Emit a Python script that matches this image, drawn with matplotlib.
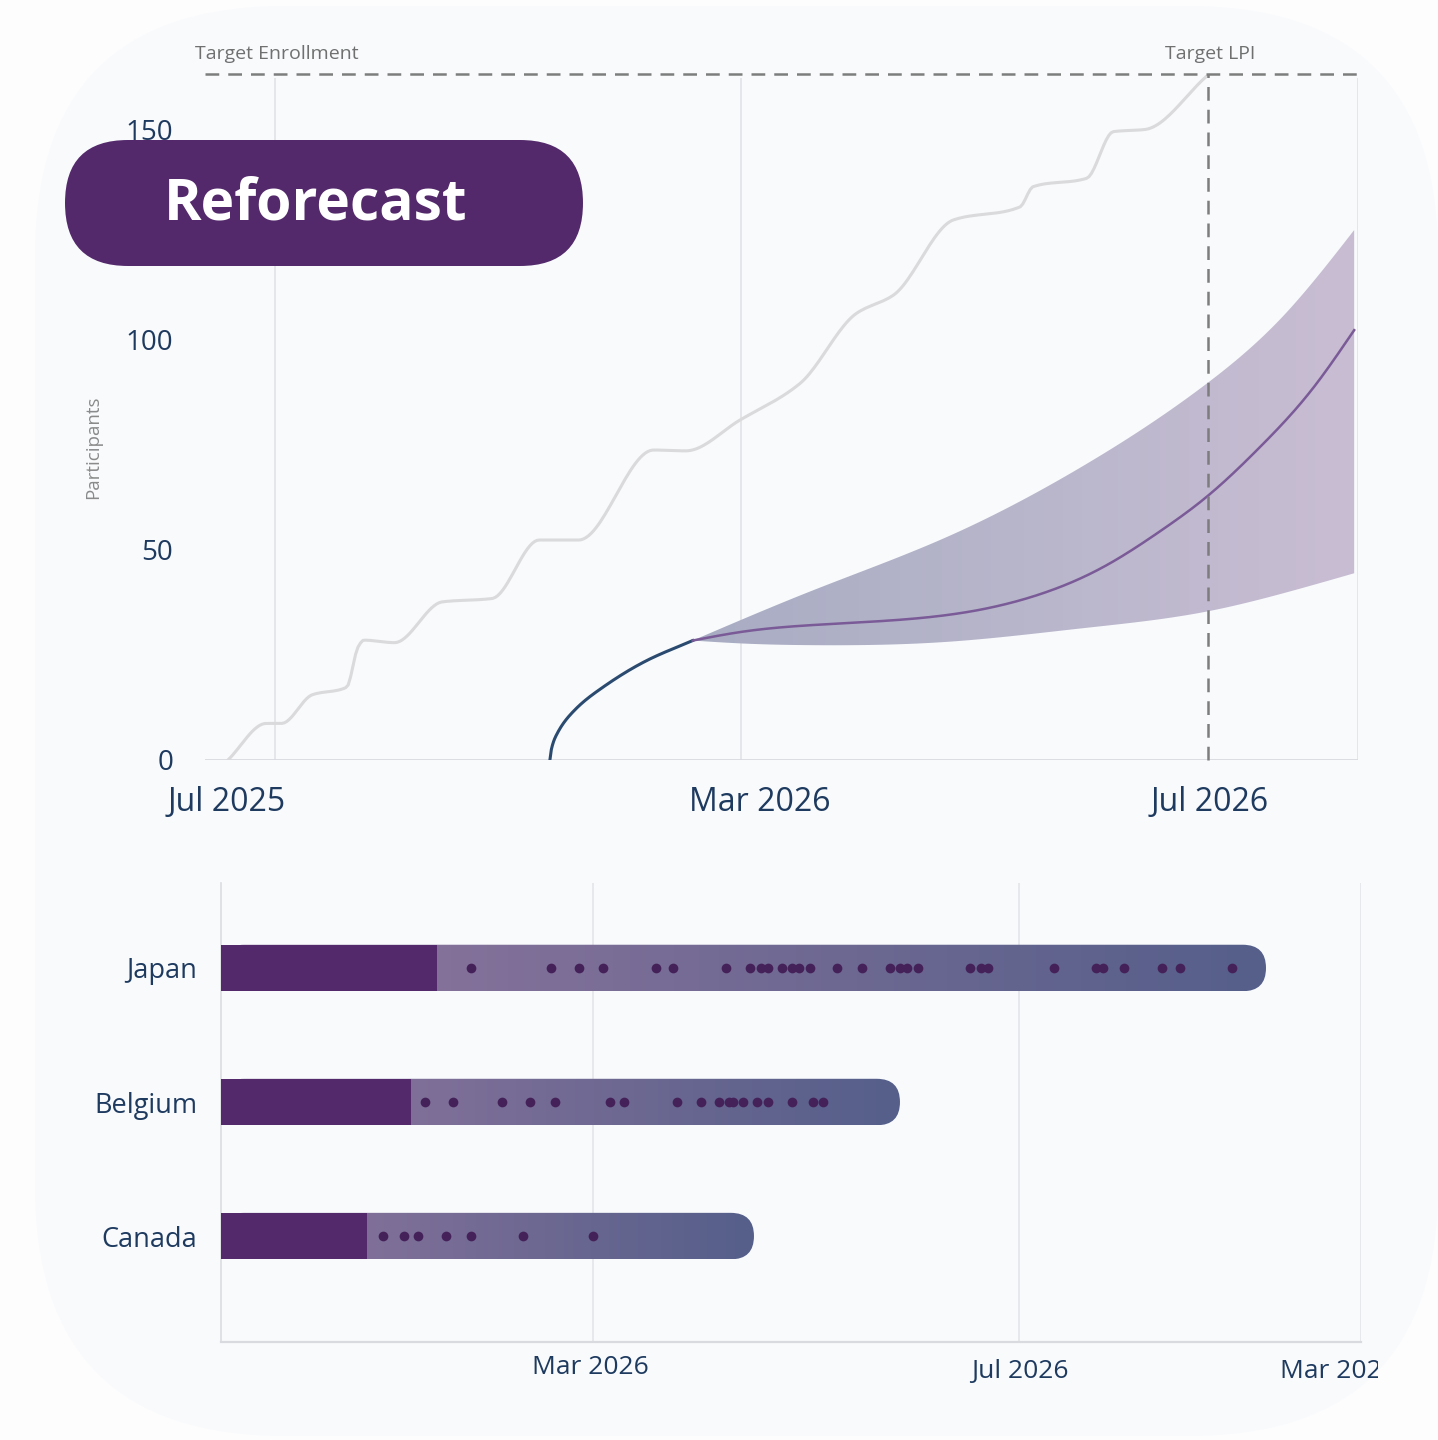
import numpy as np
import matplotlib
matplotlib.use("Agg")
import matplotlib.pyplot as plt
from matplotlib.patches import FancyBboxPatch, Rectangle
from matplotlib.transforms import Bbox, TransformedBbox
from matplotlib.colors import LinearSegmentedColormap

plt.rcParams['font.family'] = ['Open Sans', 'DejaVu Sans']

# ---- data (days relative to 1 Mar 2026) ----
target_enrollment = 163
target_lpi_day = 122

plan_days = [-134, -124, -120, -112, -103, -100, -98.5, -90.5, -78, -65, -52.7, -42.4,
             -22.8, -14.4, -0.3, 15.4, 30.2, 39.8, 55.5, 72.9, 76.3, 90.3, 97.3, 105.5, 121.7]
plan_vals = [0, 8.7, 8.7, 15.5, 17.3, 26.9, 28.5, 27.9, 37.6, 38.4, 52.3, 52.3,
             73.7, 73.5, 80.8, 89.5, 106.2, 110.5, 128.4, 131.5, 136.3, 138.3, 149.4, 149.9, 162.6]

actual_days = [-49.9, -49.5, -48.0, -43.4, -35.9, -24.7, -12.6]
actual_vals = [0, 2.6, 6.3, 11.9, 17.4, 23.6, 28.4]

median_days = [-12.6, 0.4, 19, 42.4, 59.9, 77.4, 94.9, 110, 121.7, 135.7, 149.7, 160.2]
median_vals = [28.4, 30.5, 32.1, 33.4, 35.3, 39.2, 46.0, 54.7, 62.6, 74.5, 88.7, 102.2]
upper_days = [-12.6, 19, 54, 89, 121.7, 141.5, 160.2]
upper_vals = [28.4, 40.4, 53.1, 69.7, 89.5, 105.4, 126.0]
lower_days = [-12.6, 0.4, 19, 54, 89, 121.7, 141.5, 160.2]
lower_vals = [28.4, 27.7, 27.3, 28.1, 31.3, 35.3, 39.6, 44.4]

top_tick_days = [-134.3, 5.0, 122.5]
top_tick_labels = ['Jul 2025', 'Mar 2026', 'Jul 2026']
top_grid_days = [-121.7, 0, 161.2]

countries = ['Japan', 'Belgium', 'Canada']
bar_start = [-106.5, -106.5, -106.5]
activated_end = [-44.7, -52.1, -64.7]
bar_end = [192.7, 87.9, 46.1]
enroll_days = [
    [-35, -12, -4, 3, 18, 23, 38, 45, 48, 50, 54, 57, 59, 62, 70, 77, 85, 88, 90, 93,
     108, 111, 113, 132, 144, 146, 152, 163, 168, 183],
    [-48, -40, -26, -18, -11, 5, 9, 24, 31, 36, 39, 40, 43, 47, 50, 57, 63, 66],
    [-60, -54, -50, -42, -35, -20, 0],
]
bottom_tick_days = [-0.6, 122.3, 213.3]
bottom_tick_labels = ['Mar 2026', 'Jul 2026', 'Mar 2027']
bottom_grid_days = [0, 122, 219.9]

navy = '#1e3a5f'
W, H = 1438, 1440


def pchip(x, y, xs):
    x = np.asarray(x, float)
    y = np.asarray(y, float)
    h = np.diff(x)
    d = np.diff(y) / h
    m = np.zeros_like(y)
    m[0], m[-1] = d[0], d[-1]
    for k in range(1, len(x) - 1):
        if d[k - 1] * d[k] <= 0:
            m[k] = 0
        else:
            w1 = 2 * h[k] + h[k - 1]
            w2 = h[k] + 2 * h[k - 1]
            m[k] = (w1 + w2) / (w1 / d[k - 1] + w2 / d[k])
    idx = np.clip(np.searchsorted(x, xs) - 1, 0, len(x) - 2)
    t = (xs - x[idx]) / h[idx]
    h00 = 2 * t**3 - 3 * t**2 + 1
    h10 = t**3 - 2 * t**2 + t
    h01 = -2 * t**3 + 3 * t**2
    h11 = t**3 - t**2
    return h00 * y[idx] + h10 * h[idx] * m[idx] + h01 * y[idx + 1] + h11 * h[idx] * m[idx + 1]


def spline(x, y, xs):
    # natural cubic spline
    x = np.asarray(x, float)
    y = np.asarray(y, float)
    n = len(x)
    h = np.diff(x)
    A = np.zeros((n, n))
    b = np.zeros(n)
    A[0, 0] = A[-1, -1] = 1
    for i in range(1, n - 1):
        A[i, i - 1] = h[i - 1]
        A[i, i] = 2 * (h[i - 1] + h[i])
        A[i, i + 1] = h[i]
        b[i] = 3 * ((y[i + 1] - y[i]) / h[i] - (y[i] - y[i - 1]) / h[i - 1])
    c = np.linalg.solve(A, b)
    idx = np.clip(np.searchsorted(x, xs) - 1, 0, n - 2)
    dx = xs - x[idx]
    bb = (y[idx + 1] - y[idx]) / h[idx] - h[idx] * (2 * c[idx] + c[idx + 1]) / 3
    dd = (c[idx + 1] - c[idx]) / (3 * h[idx])
    return y[idx] + bb * dx + c[idx] * dx**2 + dd * dx**3


def smooth(x, y, n=400):
    xs = np.linspace(x[0], x[-1], n)
    return xs, pchip(x, y, xs)


fig = plt.figure(figsize=(W / 100, H / 100), dpi=100, facecolor='#fdfdfe')

# card background
card = FancyBboxPatch((35 / W, 1 - 1436 / H), (W - 35) / W, 1430 / H,
                      boxstyle='round,pad=0,rounding_size=%f' % (250 / W),
                      mutation_aspect=W / H, transform=fig.transFigure,
                      fc='#f8fafc', ec='none', zorder=-10)
fig.patches.append(card)

# ---------------- top chart ----------------
ax = fig.add_axes([205 / W, 1 - 760 / H, (1358 - 205) / W, (760 - 74) / H])
ax.set_facecolor('none')
ax.set_xlim(-140.0, 161.2)
ax.set_ylim(0, 163.1)
for s in ax.spines.values():
    s.set_visible(False)

ax.vlines(top_grid_days, 0, 162.1, color='#e2e3e6', lw=1.2, zorder=1)
ax.axhline(0, color='#d8dadf', lw=2, zorder=2)

xs, ys = smooth(plan_days, plan_vals)
ax.plot(xs, ys, color='#dadadc', lw=2.2, zorder=3, solid_capstyle='round')

xs, ys = smooth(actual_days, actual_vals)
ax.plot(xs, ys, color='#2b4a6f', lw=2.2, zorder=5)

xs = np.linspace(median_days[0], median_days[-1], 400)
up = spline(upper_days, upper_vals, xs)
lo = spline(lower_days, lower_vals, xs)
md = spline(median_days, median_vals, xs)
band = ax.fill_between(xs, lo, up, color='none', lw=0)
grad = np.linspace(0, 1, 256).reshape(1, -1)
band_cmap = LinearSegmentedColormap.from_list('band', ['#a8acc3', '#b8b6cb', '#c9bdd3'])
im = ax.imshow(grad, cmap=band_cmap, aspect='auto', extent=(xs[0], xs[-1], 0, 130),
               zorder=4, interpolation='bilinear')
im.set_clip_path(band.get_paths()[0], transform=ax.transData)
ax.plot(xs, md, color='#7a5a97', lw=1.8, zorder=6)
ax.set_xlim(-140.0, 161.2)
ax.set_ylim(0, 163.1)

ax.hlines(target_enrollment, -140.0, 161.7, colors='#7d7d7d', lw=1.8,
          linestyles=(0, (5.5, 3.6)), clip_on=False, zorder=7)
ax.vlines(target_lpi_day, 0, target_enrollment, colors='#7d7d7d', lw=1.8,
          linestyles=(0, (5.5, 3.6)), clip_on=False, zorder=7)
ax.text(-142.6, 167.9, 'Target Enrollment', fontsize=14, color='#707070',
        ha='left', va='center', clip_on=False)
ax.text(122.7, 167.9, 'Target LPI', fontsize=14, color='#707070',
        ha='center', va='center', clip_on=False)

ax.set_xticks([])
ax.set_yticks([0, 50, 100, 150])
ax.set_yticklabels(['0', '50', '100', '150'])
ax.tick_params(axis='y', length=0, pad=23, labelsize=20, labelcolor=navy)
for d, lab in zip(top_tick_days, top_tick_labels):
    ax.text(d, -10.2, lab, fontsize=23, color=navy, ha='center', va='center', clip_on=False)

fig.text(93 / W, 1 - 447 / H, 'Participants', rotation=90, fontsize=13.5,
         color='#8a8a8a', ha='center', va='center')

# badge
badge = FancyBboxPatch((65 / W, 1 - 266 / H), (583 - 65) / W, 126 / H,
                       boxstyle='round,pad=0,rounding_size=%f' % (63 / W),
                       mutation_aspect=W / H, transform=fig.transFigure,
                       fc='#53296b', ec='none', zorder=10)
fig.patches.append(badge)
fig.text(316 / W, 1 - 204 / H, 'Reforecast', fontsize=41, fontweight='bold',
         color='white', ha='center', va='center', zorder=11)

# ---------------- bottom chart ----------------
bx0, bx1, by0, by1 = 221, 1361, 883, 1342
ax2 = fig.add_axes([bx0 / W, 1 - by1 / H, (bx1 - bx0) / W, (by1 - by0) / H])
ax2.set_facecolor('none')
xl = (-106.5, 219.9)
yl = (2.79, -0.634)
ax2.set_xlim(*xl)
ax2.set_ylim(*yl)
for k in ['top', 'right']:
    ax2.spines[k].set_visible(False)
ax2.spines['left'].set_color('#dcdde1')
ax2.spines['left'].set_linewidth(1.2)
ax2.spines['bottom'].set_color('#d9dadf')
ax2.spines['bottom'].set_linewidth(1.6)
ax2.vlines(bottom_grid_days, yl[1], yl[0], color='#e4e5e8', lw=1.2, zorder=1)

x_per_px = (xl[1] - xl[0]) / (bx1 - bx0)
y_per_px = (yl[0] - yl[1]) / (by1 - by0)
bh = 46.5 * y_per_px
rad = 23.25 * x_per_px
bar_cmap = LinearSegmentedColormap.from_list('bar', ['#90769e', '#555f8a'])

for i, c in enumerate(countries):
    shape = FancyBboxPatch((bar_start[i], i - bh / 2), bar_end[i] - bar_start[i], bh,
                           boxstyle='round,pad=0,rounding_size=%f' % rad,
                           mutation_aspect=y_per_px / x_per_px, fc='none', ec='none')
    ax2.add_patch(shape)
    g = ax2.imshow(grad, cmap=bar_cmap, aspect='auto', interpolation='bilinear',
                   extent=(bar_start[i], bar_end[i], i + bh / 2, i - bh / 2), zorder=2)
    g.set_clip_path(shape)
    ax2.add_patch(Rectangle((bar_start[i], i - bh / 2), activated_end[i] - bar_start[i], bh,
                            fc='#53296b', ec='none', zorder=3))
    ax2.plot(enroll_days[i], [i] * len(enroll_days[i]), 'o', ms=7, color='#45215a',
             mec='none', zorder=4)

ax2.set_xlim(*xl)
ax2.set_ylim(*yl)
ax2.set_xticks([])
ax2.set_yticks(range(len(countries)))
ax2.set_yticklabels(countries)
ax2.tick_params(axis='y', length=0, pad=17, labelsize=19.5, labelcolor=navy)

clip = TransformedBbox(Bbox([[0, 0], [1378 / W, 1]]), fig.transFigure)
for d, lab, py in zip(bottom_tick_days, bottom_tick_labels, [1367, 1371, 1371]):
    t = ax2.text(d, (py - 968) / 134.0, lab, fontsize=19, color=navy,
                 ha='center', va='center')
    t.set_clip_on(True)
    t.set_clip_box(clip)

fig.savefig('out.png', dpi=100, facecolor=fig.get_facecolor())
